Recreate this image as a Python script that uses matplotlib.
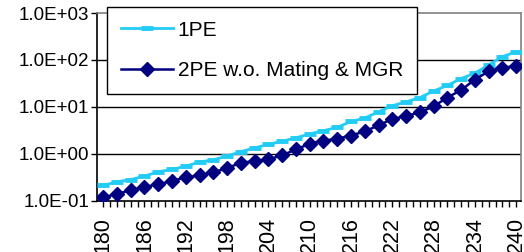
import numpy as np
import matplotlib
matplotlib.use("Agg")
import matplotlib.pyplot as plt
from matplotlib.ticker import FixedLocator, MultipleLocator, FuncFormatter

plt.rcParams['font.family'] = ['Liberation Sans', 'DejaVu Sans']

# data
x = np.arange(180, 241, 2)
pe1 = [0.21, 0.25, 0.28, 0.33, 0.41, 0.46, 0.54, 0.66, 0.74, 0.89,
       1.1, 1.33, 1.57, 1.84, 2.17, 2.63, 3.09, 3.63, 4.86, 5.74,
       7.8, 10.5, 12.7, 15.7, 21.6, 28.5, 40, 52, 78, 117, 149]
pe2 = [0.117, 0.137, 0.167, 0.196, 0.22, 0.263, 0.31, 0.345, 0.40, 0.49,
       0.64, 0.69, 0.75, 0.92, 1.23, 1.62, 1.9, 2.07, 2.43, 2.99,
       4.0, 5.5, 6.3, 7.6, 10.2, 15.7, 22.7, 38, 57, 68, 74]
labels = ['1PE', '2PE w.o. Mating & MGR']
xtick_labels = list(range(180, 241, 6))
ytick_vals = [0.1, 1, 10, 100, 1000]

fig = plt.figure(figsize=(5.24, 2.52), dpi=100)
ax = fig.add_axes([97 / 524, 1 - 200.5 / 252, 424 / 524, 187.5 / 252])

ax.plot(x, pe1, color='#22CCF5', lw=2.0, marker='_', ms=9, mew=3.5,
        label=labels[0], zorder=3)
ax.plot(x, pe2, color='#000080', lw=1.8, marker='D', ms=7.5,
        label=labels[1], zorder=4)

ax.set_yscale('log')
ax.set_ylim(0.1, 1000)
ax.set_xlim(179.1, 240.7)

ax.yaxis.set_major_locator(FixedLocator(ytick_vals))
ax.yaxis.set_minor_locator(FixedLocator([]))
ax.yaxis.set_major_formatter(FuncFormatter(lambda v, p: '1.0E%+03d' % int(round(np.log10(v)))))
ax.set_xticks(xtick_labels)
ax.set_xticklabels([str(v) for v in xtick_labels], rotation=90)
ax.xaxis.set_minor_locator(MultipleLocator(1))

ax.tick_params(axis='y', which='major', labelsize=13.5, length=4, width=1,
               direction='out', colors='black', pad=1.5)
ax.tick_params(axis='x', which='major', labelsize=15.5, length=4, width=1,
               direction='out', colors='black', pad=8)
ax.tick_params(axis='x', which='minor', length=4, width=1, direction='out')

for v in ytick_vals[1:-1]:
    ax.axhline(v, color='black', lw=1, zorder=1)

for s in ['left', 'bottom']:
    ax.spines[s].set_color('black')
    ax.spines[s].set_linewidth(1.2)
for s in ['top', 'right']:
    ax.spines[s].set_color('#808080')
    ax.spines[s].set_linewidth(1.2)

leg = ax.legend(loc='upper left', bbox_to_anchor=(107 / 524, 1 - 7 / 252),
                bbox_transform=fig.transFigure, fontsize=15, frameon=True,
                fancybox=False, edgecolor='black', framealpha=1,
                handlelength=2.5, handletextpad=0.25, labelspacing=1.05,
                borderpad=0.65, borderaxespad=0)
leg.get_frame().set_linewidth(1)
leg.set_zorder(10)

fig.savefig('out.png', dpi=100)
